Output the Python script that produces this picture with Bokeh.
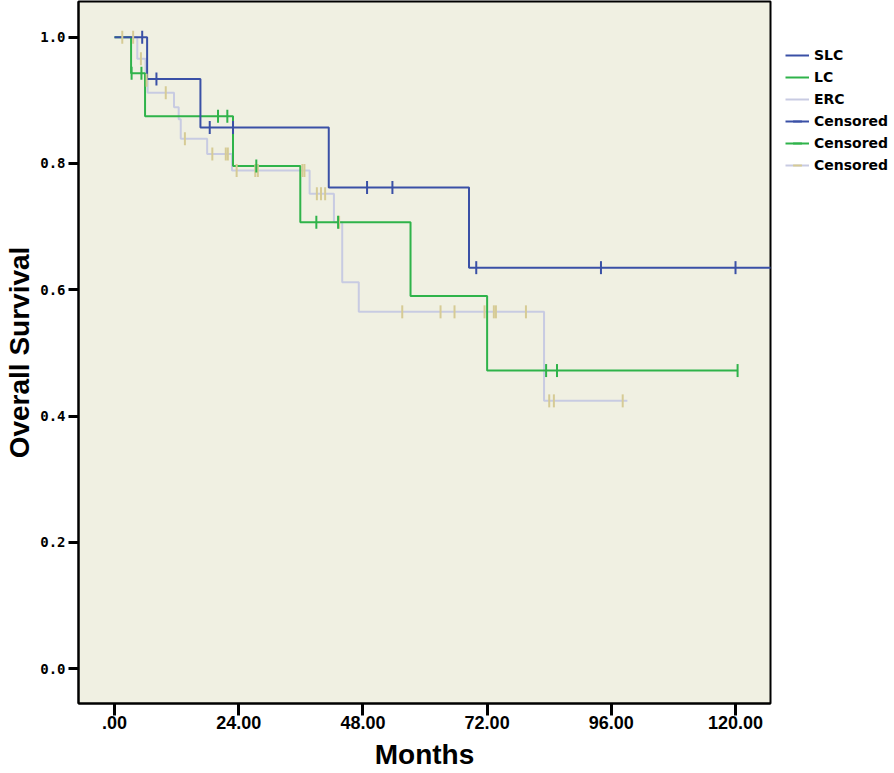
import math
from bokeh.plotting import figure
from bokeh.models import Range1d, FixedTicker, Legend, LegendItem, ColumnDataSource
from bokeh.embed import file_html
from bokeh.resources import INLINE

# ---- data (months, survival) ----
slc_time = [0, 6.3, 16.6, 41.4, 68.5, 128]
slc_surv = [1.0, 0.934, 0.857, 0.762, 0.635, 0.635]
slc_cens_time = [5.35, 8.1, 18.4, 22.9, 48.8, 53.7, 69.9, 94.0, 120.0]
slc_cens_surv = [1.0, 0.934, 0.857, 0.857, 0.762, 0.762, 0.635, 0.635, 0.635]

lc_time = [0, 3.2, 5.9, 22.9, 35.9, 57.2, 72.0, 120.4]
lc_surv = [1.0, 0.943, 0.875, 0.796, 0.707, 0.590, 0.472, 0.472]
lc_cens_time = [3.3, 5.2, 20.0, 21.8, 27.4, 39.0, 43.2, 83.4, 85.5, 120.4]
lc_cens_surv = [0.943, 0.943, 0.875, 0.875, 0.796, 0.707, 0.707, 0.472, 0.472, 0.472]

erc_time = [0, 4.4, 6.0, 6.4, 11.5, 12.4, 12.8, 17.9, 22.7, 37.7, 42.4, 44.0, 47.2, 83.0, 99.1]
erc_surv = [1.0, 0.966, 0.932, 0.912, 0.889, 0.870, 0.839, 0.815, 0.789, 0.752, 0.707,
            0.612, 0.565, 0.424, 0.424]
erc_cens_time = [1.5, 3.6, 5.1, 6.2, 9.9, 13.6, 18.9, 21.5, 21.9, 23.6, 27.2, 27.7, 36.3, 36.7,
                 39.1, 39.9, 40.7, 43.4, 55.6, 63.0, 65.7, 71.5, 73.3, 73.7, 79.5, 84.0, 84.9, 98.2]
erc_cens_surv = [1.0, 1.0, 0.966, 0.932, 0.912, 0.839, 0.815, 0.815, 0.815, 0.789, 0.789, 0.789,
                 0.789, 0.789, 0.752, 0.752, 0.752, 0.707, 0.565, 0.565, 0.565, 0.565, 0.565,
                 0.565, 0.565, 0.424, 0.424, 0.424]

group_names = ["SLC", "LC", "ERC"]
censor_label = "Censored"

x_ticks = [0, 24, 48, 72, 96, 120]
x_tick_labels = [".00", "24.00", "48.00", "72.00", "96.00", "120.00"]
y_ticks = [0.0, 0.2, 0.4, 0.6, 0.8, 1.0]
y_tick_labels = ["0.0", "0.2", "0.4", "0.6", "0.8", "1.0"]

# ---- styling ----
BLUE = "#3a50a6"
GREEN = "#2fb34a"
ERC_LINE = "#c8cbe2"
ERC_CENS = "#d6cb95"

p = figure(frame_width=692, frame_height=702, output_backend="svg", toolbar_location=None,
           x_range=Range1d(-6.96, 126.76), y_range=Range1d(-0.0554, 1.0566),
           min_border_left=78, min_border_right=124, min_border_top=1, min_border_bottom=70)
p.background_fill_color = "#f0f0e2"
p.border_fill_color = "white"
p.outline_line_color = "black"
p.outline_line_width = 2
p.grid.visible = False

def km(times, surv, color):
    src = ColumnDataSource(dict(t=times, s=surv))
    return p.step(x="t", y="s", source=src, mode="after", line_color=color, line_width=2)

def cens(times, surv, color):
    src = ColumnDataSource(dict(t=times, s=surv))
    return p.scatter(x="t", y="s", source=src, marker="dash", angle=math.pi / 2, size=13,
                     line_color=color, line_width=2)

r_erc = km(erc_time, erc_surv, ERC_LINE)
r_lc = km(lc_time, lc_surv, GREEN)
r_slc = km(slc_time, slc_surv, BLUE)
c_erc = cens(erc_cens_time, erc_cens_surv, ERC_CENS)
c_lc = cens(lc_cens_time, lc_cens_surv, GREEN)
c_slc = cens(slc_cens_time, slc_cens_surv, BLUE)

# axes
for ax in (p.xaxis[0], p.yaxis[0]):
    ax.axis_line_width = 2
    ax.axis_line_color = "black"
    ax.major_tick_in = 0
    ax.major_tick_line_width = 3
    ax.minor_tick_line_color = None
    ax.major_label_text_color = "black"
    ax.axis_label_text_font = "Liberation Sans"
    ax.axis_label_text_font_style = "bold"
    ax.axis_label_text_font_size = "28px"
    ax.axis_label_text_color = "black"

p.xaxis.ticker = FixedTicker(ticks=x_ticks)
p.xaxis.major_label_overrides = dict(zip(x_ticks, x_tick_labels))
p.xaxis.major_tick_out = 12
p.xaxis.major_label_standoff = 0
p.xaxis.major_label_text_font = "Liberation Sans"
p.xaxis.major_label_text_font_style = "bold"
p.xaxis.major_label_text_font_size = "18px"
p.xaxis.axis_label = "Months"
p.xaxis.axis_label_standoff = 7

p.yaxis.ticker = FixedTicker(ticks=y_ticks)
p.yaxis.major_label_overrides = dict(zip(y_ticks, y_tick_labels))
p.yaxis.major_tick_out = 10
p.yaxis.major_label_standoff = 3
p.yaxis.major_label_text_font = "DejaVu Sans Mono"
p.yaxis.major_label_text_font_style = "bold"
p.yaxis.major_label_text_font_size = "14px"
p.yaxis.axis_label = "Overall Survival"
p.yaxis.axis_label_standoff = 2

legend = Legend(items=[
    LegendItem(label=group_names[0], renderers=[r_slc]),
    LegendItem(label=group_names[1], renderers=[r_lc]),
    LegendItem(label=group_names[2], renderers=[r_erc]),
    LegendItem(label=censor_label, renderers=[r_slc, c_slc]),
    LegendItem(label=censor_label, renderers=[r_lc, c_lc]),
    LegendItem(label=censor_label, renderers=[r_erc, c_erc]),
], location=(15, 527), padding=0, margin=0, spacing=0, glyph_width=24, glyph_height=22,
   label_height=22, label_standoff=5, background_fill_alpha=0, border_line_alpha=0,
   label_text_font="DejaVu Sans", label_text_font_style="bold", label_text_font_size="14px",
   label_text_color="black")
p.add_layout(legend, "right")

open("out.html", "w").write(file_html(p, INLINE))
